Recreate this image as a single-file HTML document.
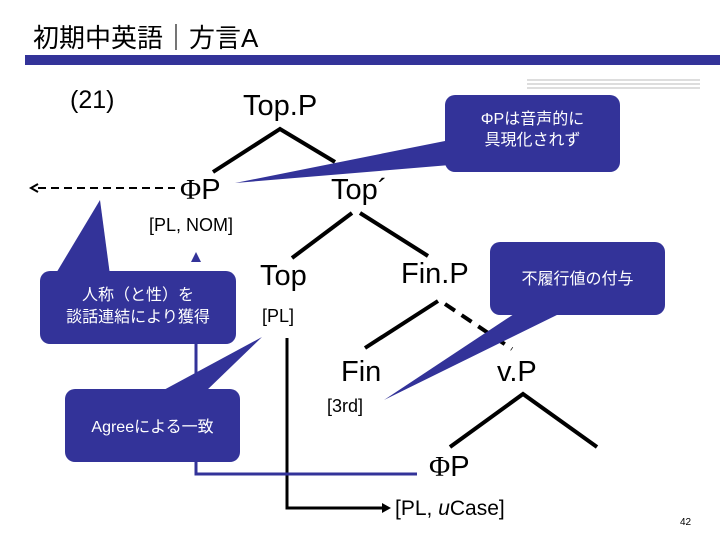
<!DOCTYPE html>
<html><head><meta charset="utf-8"><style>
body{margin:0;width:720px;height:540px;background:#fff;overflow:hidden;position:relative;font-family:"Liberation Sans","Noto Sans CJK JP",sans-serif}
.t{position:absolute;white-space:nowrap;color:#000}
</style></head><body>
<svg width="720" height="540" style="position:absolute;left:0;top:0">
<rect x="25" y="55" width="695" height="10" fill="#333399"/>
<g stroke="#bbb" stroke-width="1"><line x1="527" y1="80" x2="700" y2="80"/><line x1="527" y1="84" x2="700" y2="84"/><line x1="527" y1="88" x2="700" y2="88"/></g>
<g stroke="#000" stroke-width="4" fill="none">
<polyline points="213,172 280,129 335,162"/>
<line x1="352" y1="213" x2="292" y2="258"/>
<line x1="360" y1="213" x2="428" y2="256"/>
<line x1="438" y1="301" x2="365" y2="348"/>
<line x1="445" y1="304" x2="512" y2="349" stroke-dasharray="12,8"/>
<polyline points="450,447 523,394 597,447"/>
</g>
<line x1="38" y1="188" x2="175" y2="188" stroke="#000" stroke-width="2" stroke-dasharray="8,5"/>
<polyline points="38,184 31,188 38,192" fill="none" stroke="#000" stroke-width="2"/>
<polyline points="287,338 287,508 384,508" fill="none" stroke="#000" stroke-width="3"/>
<polygon points="382,503 391,508 382,513" fill="#000"/>
<polyline points="196,272 196,474 417,474" fill="none" stroke="#333399" stroke-width="3"/>
<polygon points="191,262 196,252 201,262" fill="#333399"/>
<g fill="#333399">
<polygon points="235,183 450,140 450,165"/>
<rect x="445" y="95" width="175" height="77" rx="10"/>
<polygon points="384,400 517,312 563,312"/>
<rect x="490" y="242" width="175" height="73" rx="10"/>
<polygon points="100,200 55,275 110,275"/>
<rect x="40" y="271" width="196" height="73" rx="10"/>
<polygon points="262,337 160,392 205,392"/>
<rect x="65" y="389" width="175" height="73" rx="10"/>
</g>
</svg>
<div class="t" style="left:33px;top:18px;font-size:26px">初期中英語｜方言A</div>
<div class="t" style="left:70px;top:86px;font-size:25px">(21)</div>
<div class="t" style="left:243px;top:90px;font-size:29px">Top.P</div>
<div class="t" style="left:180px;top:174px;font-size:29px"><span style="font-family:'Liberation Serif',serif">Φ</span>P</div>
<div class="t" style="left:149px;top:215px;font-size:18px">[PL, NOM]</div>
<div class="t" style="left:331px;top:174px;font-size:29px">Top´</div>
<div class="t" style="left:260px;top:260px;font-size:29px">Top</div>
<div class="t" style="left:262px;top:306px;font-size:18px">[PL]</div>
<div class="t" style="left:401px;top:258px;font-size:29px">Fin.P</div>
<div class="t" style="left:341px;top:356px;font-size:29px">Fin</div>
<div class="t" style="left:327px;top:396px;font-size:18px">[3rd]</div>
<div class="t" style="left:497px;top:356px;font-size:29px">v.P</div>
<div class="t" style="left:429px;top:451px;font-size:29px"><span style="font-family:'Liberation Serif',serif">Φ</span>P</div>
<div class="t" style="left:395px;top:497px;font-size:21px">[PL, <i>u</i>Case]</div>
<div class="t" style="left:680px;top:517px;font-size:10px">42</div>
<div class="t" style="left:445px;top:109px;width:175px;text-align:center;color:#fff;font-size:16px;line-height:21px">ΦPは音声的に<br>具現化されず</div>
<div class="t" style="left:490px;top:265px;width:175px;text-align:center;color:#fff;font-size:16px">不履行値の付与</div>
<div class="t" style="left:40px;top:285px;width:196px;text-align:center;color:#fff;font-size:16px;line-height:22px">人称（と性）を<br>談話連結により獲得</div>
<div class="t" style="left:65px;top:413px;width:175px;text-align:center;color:#fff;font-size:16px">Agreeによる一致</div>
</body></html>
